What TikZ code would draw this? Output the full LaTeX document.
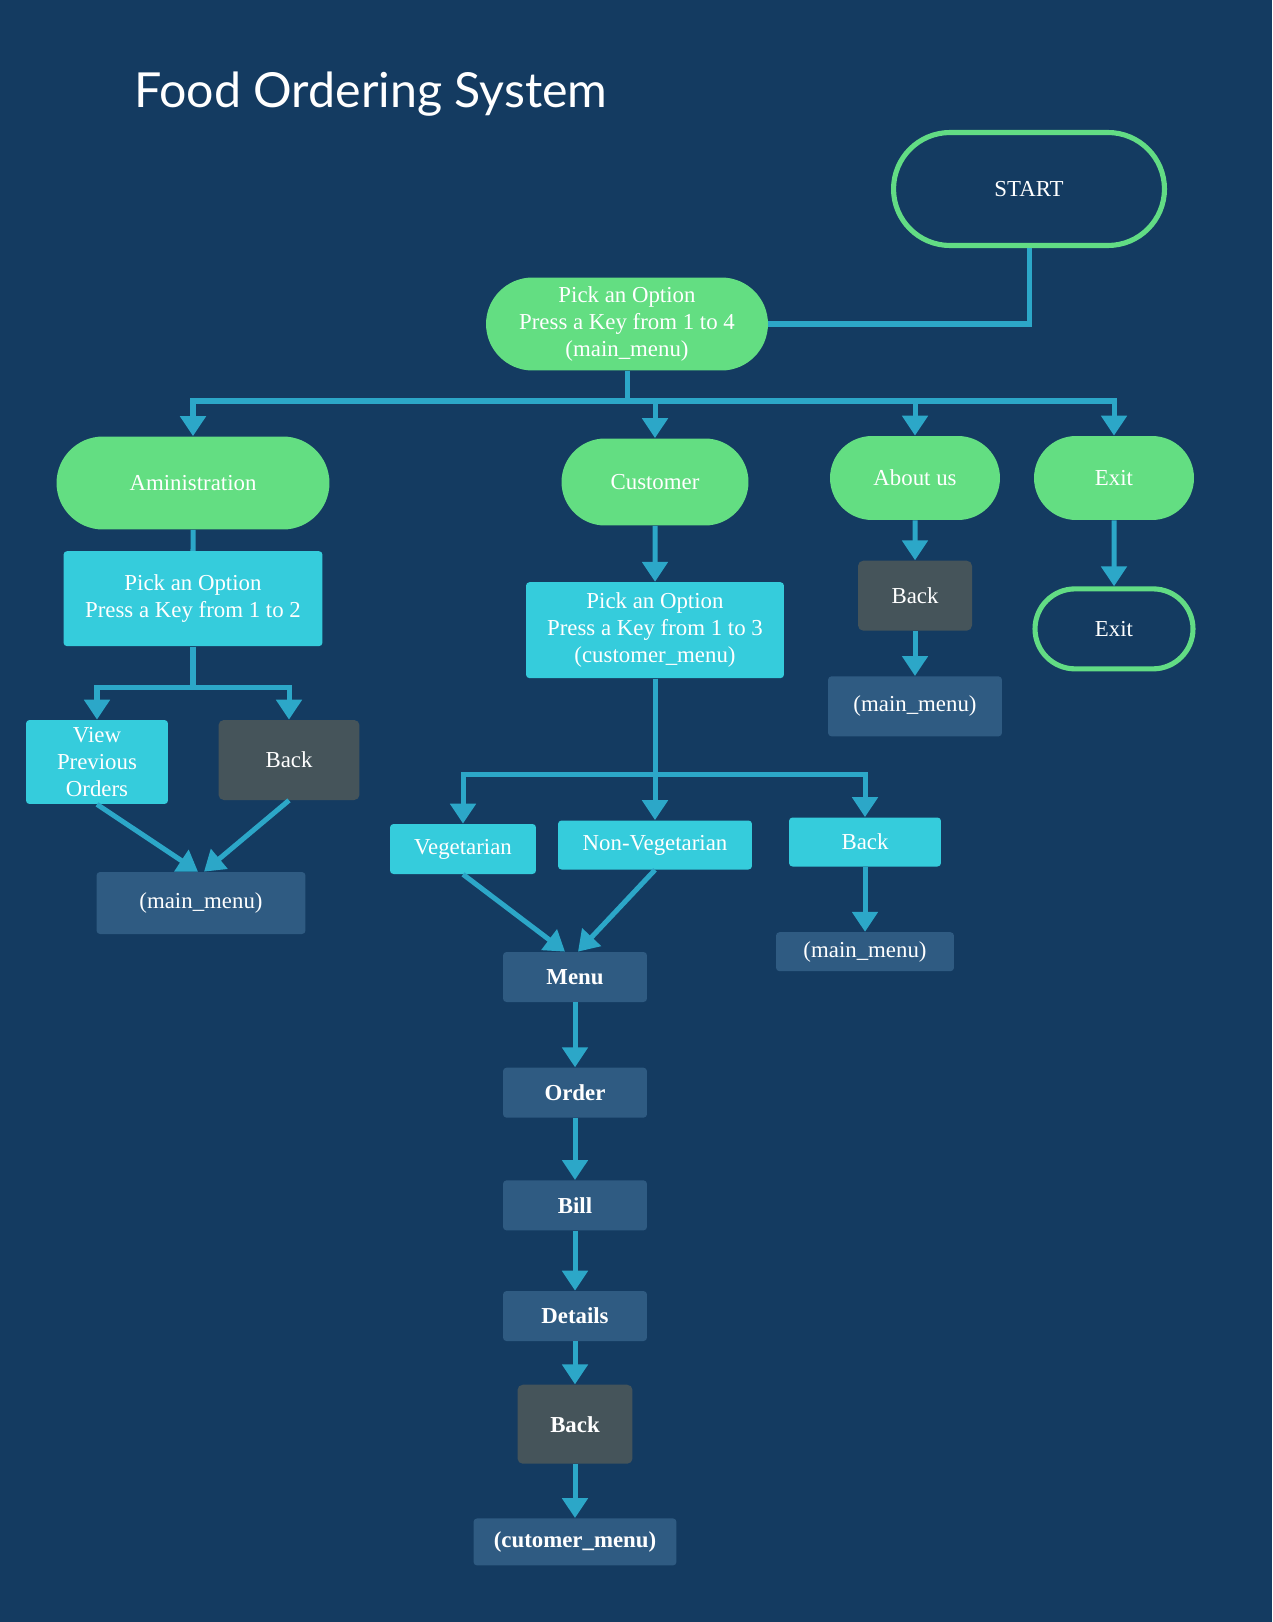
\documentclass[tikz,border=0pt]{standalone}
\usepackage{fontspec}
\setmainfont{Liberation Serif}
\newfontfamily\titlefont{Lato}
\usepackage{tikz}
\usetikzlibrary{positioning,arrows.meta,shapes.misc}
\definecolor{bgNavy}{HTML}{143B61}
\definecolor{termGreen}{HTML}{62DC84}
\definecolor{nodeGreen}{HTML}{63DE82}
\definecolor{nodeCyan}{HTML}{35CCDC}
\definecolor{nodeGrey}{HTML}{45545A}
\definecolor{nodeSlate}{HTML}{2F5B82}
\definecolor{arrBlue}{HTML}{2CA7C8}

\begin{document}
\begin{tikzpicture}[x=0.02cm, y=-0.02cm,
    termbox/.style={rounded rectangle, draw=termGreen, line width=2.9pt,
                    fill=bgNavy, text=white, font=\fontsize{13}{15.5}\selectfont,
                    inner sep=0pt},
    greenbox/.style={rounded rectangle, fill=nodeGreen, text=white,
                     align=center, inner sep=0pt,
                     font=\fontsize{13}{15.5}\selectfont},
    cyanbox/.style={rectangle, rounded corners=2pt, fill=nodeCyan, text=white,
                    align=center, inner sep=0pt,
                    font=\fontsize{13}{15.5}\selectfont},
    greybox/.style={rectangle, rounded corners=3pt, fill=nodeGrey, text=white,
                    align=center, inner sep=0pt,
                    font=\fontsize{13}{15.5}\selectfont},
    slatebox/.style={rectangle, rounded corners=2pt, fill=nodeSlate, text=white,
                     align=center, inner sep=0pt,
                     font=\fontsize{13}{15.5}\selectfont},
    line/.style={line width=2.85pt, draw=arrBlue},
    arr/.style={line, -{Triangle[width=0.5cm,length=0.4cm]}},
    node distance=1.2cm
  ]
  \fill[bgNavy] (0,0) rectangle (1272,1622);
  \useasboundingbox (0,0) rectangle (1272,1622);

  \node[anchor=west, text=white, font=\titlefont\fontsize{27.5}{33}\selectfont]
    (title) at (128,94) {Food Ordering System};

  % main menu
  \node[termbox, minimum width=5.42cm, minimum height=2.26cm] (start) at (1029,189) {START};
  \node[greenbox, minimum width=5.64cm, minimum height=1.86cm] (main) at (627,324)
    {Pick an Option\\Press a Key from 1 to 4\\(main\_menu)};
  \coordinate (mbus) at (627,401);

  \node[greenbox, minimum width=5.46cm, minimum height=1.86cm] (admin) at (193,483) {Aministration};
  \node[greenbox, minimum width=3.74cm, minimum height=1.74cm] (cust) at (655,482) {Customer};
  \node[greenbox, minimum width=3.40cm, minimum height=1.68cm] (about) at (915,478) {About us};
  \node[greenbox, minimum width=3.20cm, minimum height=1.68cm] (exit) at (1114,478) {Exit};

  % administration
  \node[cyanbox, minimum width=5.18cm, minimum height=1.90cm, below=0.42cm of admin] (apick)
    {Pick an Option\\Press a Key from 1 to 2};
  \coordinate (abus) at (193,687);
  \node[cyanbox, minimum width=2.84cm, minimum height=1.68cm] (view) at (97,762)
    {View\\Previous\\Orders};
  \node[greybox, minimum width=2.82cm, minimum height=1.60cm] (aback) at (289,760) {Back};
  \node[slatebox, minimum width=4.18cm, minimum height=1.24cm] (amain) at (201,903) {(main\_menu)};

  % customer
  \node[cyanbox, minimum width=5.16cm, minimum height=1.92cm, below=1.12cm of cust] (cpick)
    {Pick an Option\\Press a Key from 1 to 3\\(customer\_menu)};
  \coordinate (cbus) at (655,774);
  \node[cyanbox, minimum width=2.92cm, minimum height=1.00cm] (veg) at (463,849) {Vegetarian};
  \node[cyanbox, minimum width=3.88cm, minimum height=0.98cm] (nonveg) at (655,845) {Non-Vegetarian};
  \node[cyanbox, minimum width=3.04cm, minimum height=0.98cm] (cback) at (865,842) {Back};
  \node[slatebox, minimum width=3.56cm, minimum height=0.78cm, below=1.3cm of cback] (cmain) {(main\_menu)};

  \node[slatebox, minimum width=2.88cm, minimum height=1.00cm, font=\bfseries\fontsize{13}{15.5}\selectfont] (menu) at (575,977) {Menu};
  \node[slatebox, minimum width=2.88cm, minimum height=1.00cm, font=\bfseries\fontsize{13}{15.5}\selectfont, below=1.3cm of menu] (order) {Order};
  \node[slatebox, minimum width=2.88cm, minimum height=1.00cm, font=\bfseries\fontsize{13}{15.5}\selectfont, below=1.24cm of order] (bill) {Bill};
  \node[slatebox, minimum width=2.88cm, minimum height=1.00cm, font=\bfseries\fontsize{13}{15.5}\selectfont, below=1.2cm of bill] (details) {Details};
  \node[greybox, minimum width=2.30cm, minimum height=1.58cm, font=\bfseries\fontsize{13}{15.5}\selectfont, below=0.86cm of details] (dback) {Back};
  \node[slatebox, minimum width=4.06cm, minimum height=0.94cm, font=\bfseries\fontsize{13}{15.5}\selectfont, below=1.08cm of dback] (cutmenu) {(cutomer\_menu)};

  % about us and exit
  \node[greybox, minimum width=2.28cm, minimum height=1.40cm, below=0.8cm of about] (uback) {Back};
  \node[slatebox, minimum width=3.48cm, minimum height=1.20cm, below=0.9cm of uback] (umain) {(main\_menu)};
  \node[termbox, minimum width=3.16cm, minimum height=1.60cm, below=1.32cm of exit] (exitend) {Exit};

  % connectors
  \draw[line] (start.south) |- (main.east);
  \draw[arr] (main.south) -- (mbus) -| (admin.north);
  \draw[arr] (main.south) -- (mbus) -| (cust.north);
  \draw[arr] (main.south) -- (mbus) -| (about.north);
  \draw[arr] (main.south) -- (mbus) -| (exit.north);

  \draw[line] (admin) -- (apick);
  \draw[arr] (apick.south) -- (abus) -| (view.north);
  \draw[arr] (apick.south) -- (abus) -| (aback.north);
  \draw[arr] (view.south) -- ([xshift=-0.06cm]amain.north);
  \draw[arr] (aback.south) -- ([xshift=0.06cm]amain.north);

  \draw[arr] (cust) -- (cpick);
  \draw[arr] (cpick.south) -- (cbus) -| (veg.north);
  \draw[arr] (cpick.south) -- (cbus) -| (nonveg.north);
  \draw[arr] (cpick.south) -- (cbus) -| (cback.north);
  \draw[arr] (cback) -- (cmain);
  \draw[arr] (veg.south) -- ([xshift=-0.2cm]menu.north);
  \draw[arr] (nonveg.south) -- ([xshift=0.06cm]menu.north);
  \draw[arr] (menu) -- (order);
  \draw[arr] (order) -- (bill);
  \draw[arr] (bill) -- (details);
  \draw[arr] (details) -- (dback);
  \draw[arr] (dback) -- (cutmenu);

  \draw[arr] (about) -- (uback);
  \draw[arr] (uback) -- (umain);
  \draw[arr] (exit) -- (exitend);
\end{tikzpicture}
\end{document}
